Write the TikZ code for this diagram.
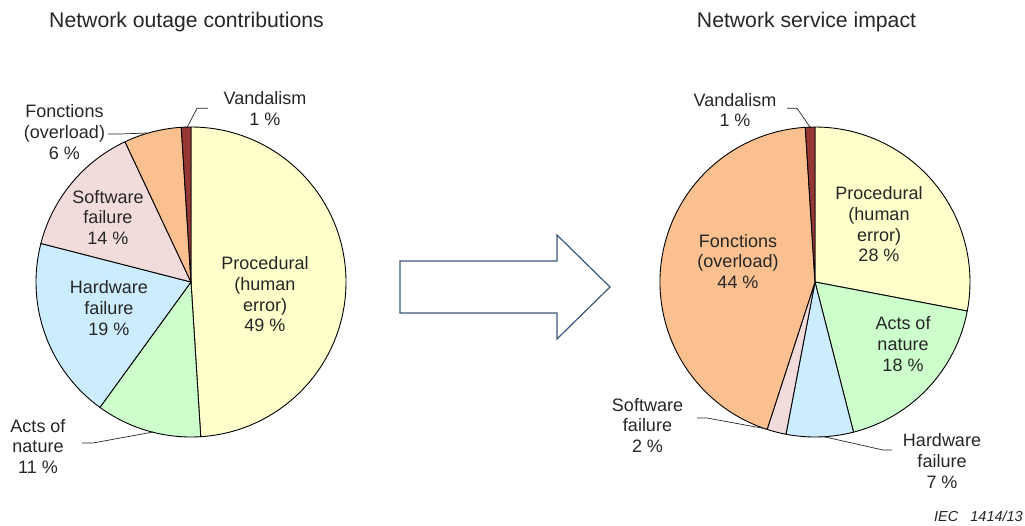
\documentclass[tikz,border=0pt]{standalone}
\usepackage{fontspec}
\setmainfont{Liberation Sans}
\definecolor{txt}{HTML}{262626}
\definecolor{cproc}{HTML}{FFFFCC}
\definecolor{cacts}{HTML}{CCFFCC}
\definecolor{chard}{HTML}{CCECFF}
\definecolor{csoft}{HTML}{F2DCDB}
\definecolor{cfonc}{HTML}{FAC090}
\definecolor{cvand}{HTML}{953735}
\definecolor{carrow}{HTML}{3B5779}
\newcommand\pieslice[4]{\filldraw[wedge, fill=#4] (#1) -- ++(#2:155) arc[start angle=#2, end angle=#3, radius=155] -- cycle;}
\begin{document}
\begin{tikzpicture}[x=1pt,y=1pt,
  lbl/.style={align=center, font=\fontsize{18}{20.7}\selectfont, text=txt, inner sep=0pt},
  ttl/.style={font=\fontsize{21.2}{24}\selectfont, text=txt, inner sep=0pt, anchor=base},
  wedge/.style={draw=black, line width=0.9pt, line join=round},
  leader/.style={draw=black!85, line width=0.7pt},
  bigarrow/.style={draw=carrow, line width=1.2pt, line join=miter, fill=white}]
\useasboundingbox (0,0) rectangle (1025,-525);

% titles
\node[ttl] (t1) at (186.5,-27.7) {Network outage contributions};
\node[ttl] (t2) at (806.5,-27.7) {Network service impact};

% left pie
\coordinate (cl) at (191,-282);
\pieslice{cl}{90}{-86.4}{cproc}
\pieslice{cl}{-86.4}{-126}{cacts}
\pieslice{cl}{-126}{-194.4}{chard}
\pieslice{cl}{-194.4}{-244.8}{csoft}
\pieslice{cl}{-244.8}{-266.4}{cfonc}
\pieslice{cl}{-266.4}{-270}{cvand}

% right pie
\coordinate (cr) at (815,-282);
\pieslice{cr}{90}{-10.8}{cproc}
\pieslice{cr}{-10.8}{-75.6}{cacts}
\pieslice{cr}{-75.6}{-100.8}{chard}
\pieslice{cr}{-100.8}{-108}{csoft}
\pieslice{cr}{-108}{-266.4}{cfonc}
\pieslice{cr}{-266.4}{-270}{cvand}

% block arrow
\draw[bigarrow] (400,-261) -- (557,-261) -- (557,-235) -- (610,-287)
  -- (557,-339) -- (557,-313) -- (400,-313) -- cycle;

% left labels
\node[lbl] (lproc) at (265,-294.5) {Procedural\\(human\\error)\\49 \%};
\node[lbl] (lhard) at (109,-308) {Hardware\\failure\\19 \%};
\node[lbl] (lsoft) at (108,-217.5) {Software\\failure\\14 \%};
\node[lbl] (lfonc) at (64.5,-132) {Fonctions\\(overload)\\6 \%};
\node[lbl] (lvand) at (265,-108.5) {Vandalism\\1 \%};
\node[lbl] (lacts) at (38,-446.5) {Acts of\\nature\\11 \%};

% right labels
\node[lbl] (rvand) at (735,-110) {Vandalism\\1 \%};
\node[lbl] (rproc) at (879,-224.5) {Procedural\\(human\\error)\\28 \%};
\node[lbl] (rfonc) at (738,-261.5) {Fonctions\\(overload)\\44 \%};
\node[lbl] (racts) at (903,-344) {Acts of\\nature\\18 \%};
\node[lbl] (rsoft) at (647.5,-425.5) {Software\\failure\\2 \%};
\node[lbl] (rhard) at (942,-461) {Hardware\\failure\\7 \%};

% leader lines
\coordinate (lv1) at (208,-108.3); \coordinate (lv2) at (197,-108.3); \coordinate (lv3) at (187,-127.5);
\draw[leader] (lv1) -- (lv2) -- (lv3);
\coordinate (lf1) at (108,-134); \coordinate (lf2) at (120,-134); \coordinate (lf3) at (147,-133);
\draw[leader] (lf1) -- (lf2) -- (lf3);
\coordinate (la1) at (82,-443); \coordinate (la2) at (93,-443); \coordinate (la3) at (153,-432);
\draw[leader] (la1) -- (la2) -- (la3);
\coordinate (rv1) at (787,-108.3); \coordinate (rv2) at (797,-108.3); \coordinate (rv3) at (810,-127);
\draw[leader] (rv1) -- (rv2) -- (rv3);
\coordinate (rs1) at (697,-418); \coordinate (rs2) at (707,-418); \coordinate (rs3) at (767,-429);
\draw[leader] (rs1) -- (rs2) -- (rs3);
\coordinate (rh1) at (892,-450); \coordinate (rh2) at (883,-450); \coordinate (rh3) at (823,-436.5);
\draw[leader] (rh1) -- (rh2) -- (rh3);

% reference
\node[anchor=base east, inner sep=0pt, text=txt, font=\fontsize{14.5}{16}\selectfont\itshape] (iec) at (1023,-521.5) {IEC\ \ \ 1414/13};
\end{tikzpicture}
\end{document}
